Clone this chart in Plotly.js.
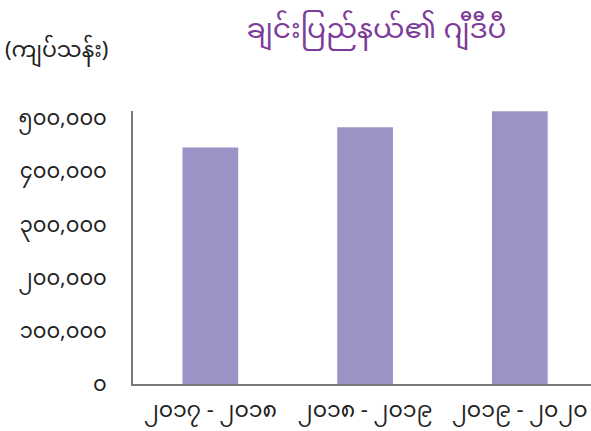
<!DOCTYPE html>
<html><head><meta charset="utf-8">
<script src="https://cdn.plot.ly/plotly-3.0.1.min.js"></script>
<style>html,body{margin:0;padding:0;background:#fff}</style>
</head><body>
<div id="chart" style="width:591px;height:431px"></div>
<script>
const categories = ["၂၀၁၇ - ၂၀၁၈", "၂၀၁၈ - ၂၀၁၉", "၂၀၁၉ - ၂၀၂၀"];
const gdpValues = [444000, 482000, 512000];
const tickValues = [0, 100000, 200000, 300000, 400000, 500000];
const tickLabels = ["၀", "၁၀၀,၀၀၀", "၂၀၀,၀၀၀", "၃၀၀,၀၀၀", "၄၀၀,၀၀၀", "၅၀၀,၀၀၀"];
const chartTitle = "ချင်းပြည်နယ်၏ ဂျီဒီပီ";
const unitLabel = "(ကျပ်သန်း)";

const font = "'Noto Sans Myanmar', 'Padauk', 'Myanmar Text', 'Noto Sans', sans-serif";

const data = [{
  type: 'bar',
  x: [0, 1, 2],
  y: gdpValues,
  width: 0.36,
  marker: {color: '#9b92c5'},
  hoverinfo: 'skip'
}];

const layout = {
  width: 591, height: 431,
  margin: {l: 133, r: 0, t: 111, b: 47},
  paper_bgcolor: '#fff', plot_bgcolor: '#fff',
  showlegend: false,
  font: {family: font, color: '#222', size: 21},
  title: {text: chartTitle, x: 0.637, xanchor: 'center', y: 0.935, yanchor: 'middle',
          font: {family: font, size: 28, color: '#7d3c98'}},
  xaxis: {
    range: [-0.5, 2.46], tickvals: [0, 1, 2], ticktext: categories,
    showgrid: false, zeroline: false, showline: true, linecolor: '#7a7a7a', linewidth: 2,
    ticks: '', ticklabelstandoff: 5, tickfont: {family: font, size: 22, color: '#222'},
    fixedrange: true
  },
  yaxis: {
    range: [0, 512500], tickvals: tickValues, ticktext: tickLabels,
    showgrid: false, zeroline: false, showline: true, linecolor: '#7a7a7a', linewidth: 2,
    ticks: '', ticklabelstandoff: 20, tickfont: {family: font, size: 21, color: '#222'},
    fixedrange: true
  },
  annotations: [{
    text: unitLabel, xref: 'paper', yref: 'paper', x: -0.168, y: 1.216,
    xanchor: 'center', yanchor: 'middle', showarrow: false,
    font: {family: font, size: 22, color: '#222'}
  }]
};

Plotly.newPlot('chart', data, layout, {displayModeBar: false, staticPlot: true});
</script>
</body></html>
